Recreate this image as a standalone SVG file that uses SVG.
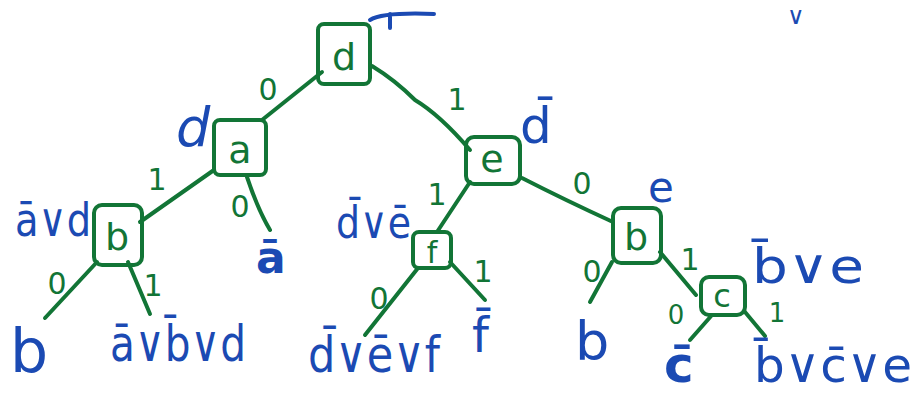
<svg xmlns="http://www.w3.org/2000/svg" width="920" height="394" viewBox="0 0 920 394">
<style>
.box{fill:none;stroke:#127536;stroke-width:4;stroke-linejoin:round}
.nl{font-family:"DejaVu Sans",sans-serif;font-size:38px;fill:#127536;text-anchor:middle}
.edge{fill:none;stroke:#127536;stroke-width:4;stroke-linecap:round}
.el{font-family:"DejaVu Sans",sans-serif;font-size:30px;fill:#127536;text-anchor:middle}
.bl{font-family:"DejaVu Sans",sans-serif;fill:#1b4ab3}
.bs{fill:none;stroke:#1b4ab3;stroke-width:4;stroke-linecap:round}
</style>
<rect width="920" height="394" fill="#ffffff"/>
<g id="connectors">
<path class="edge" d="M322 72 L262 120"/>
<path class="edge" d="M372 66 Q395 80 415 100 Q440 115 470 150"/>
<path class="edge" d="M214 170 L140 222"/>
<path class="edge" d="M247 177 Q258 210 270 230"/>
<path class="edge" d="M97 262 L45 318"/>
<path class="edge" d="M128 262 L150 314"/>
<path class="edge" d="M470 182 L437 232"/>
<path class="edge" d="M522 178 Q565 200 613 222"/>
<path class="edge" d="M418 268 L365 335"/>
<path class="edge" d="M450 262 L485 300"/>
<path class="edge" d="M612 262 L590 302"/>
<path class="edge" d="M660 252 L696 295"/>
<path class="edge" d="M712 315 L690 340"/>
<path class="edge" d="M745 312 L765 336"/>
<text class="el" x="268" y="100">0</text>
<text class="el" x="457" y="110">1</text>
<text class="el" x="157" y="190">1</text>
<text class="el" x="240" y="217">0</text>
<text class="el" x="57" y="294">0</text>
<text class="el" x="153" y="296">1</text>
<text class="el" x="437" y="205">1</text>
<text class="el" x="582" y="194">0</text>
<text class="el" x="379" y="309">0</text>
<text class="el" x="483" y="282">1</text>
<text class="el" x="592" y="282">0</text>
<text class="el" x="690" y="270">1</text>
<text class="el" x="676" y="324" style="font-size:26px">0</text>
<text class="el" x="777" y="322" style="font-size:26px">1</text>
</g>
<g id="node-d"><rect class="box" x="318" y="24" width="52" height="60" rx="6"/><text class="nl" x="344" y="70">d</text></g>
<g id="node-a"><rect class="box" x="214" y="120" width="52" height="55" rx="6"/><text class="nl" x="240" y="163">a</text></g>
<g id="node-e"><rect class="box" x="466" y="137" width="54" height="47" rx="8"/><text class="nl" x="492" y="172">e</text></g>
<g id="node-b1"><rect class="box" x="94" y="205" width="48" height="60" rx="8"/><text class="nl" x="117" y="250">b</text></g>
<g id="node-f"><rect class="box" x="413" y="232" width="38" height="36" rx="6"/><text class="nl" x="432" y="263" style="font-size:30px">f</text></g>
<g id="node-b2"><rect class="box" x="613" y="208" width="48" height="55" rx="8"/><text class="nl" x="636" y="250">b</text></g>
<g id="node-c"><rect class="box" x="701" y="277" width="44" height="38" rx="8"/><text class="nl" x="722" y="307" style="font-size:32px">c</text></g>
<g id="labels">
<text class="bl" x="176" y="146" style="font-size:54px;font-style:italic">d</text>
<text class="bl" x="15" y="236" style="font-size:46px" textLength="76" lengthAdjust="spacingAndGlyphs">ā∨d</text>
<text class="bl" x="10" y="372" style="font-size:60px">b</text>
<text class="bl" x="110" y="361" style="font-size:50px" textLength="136" lengthAdjust="spacingAndGlyphs">ā∨b̄∨d</text>
<text class="bl" x="256" y="273" style="font-size:44px;font-weight:bold">ā</text>
<text class="bl" x="336" y="238" style="font-size:44px" textLength="75" lengthAdjust="spacingAndGlyphs">d̄∨ē</text>
<text class="bl" x="308" y="372" style="font-size:50px" textLength="132" lengthAdjust="spacingAndGlyphs">d̄∨ē∨f</text>
<text class="bl" x="472" y="352" style="font-size:48px">f̄</text>
<text class="bl" x="575" y="360" style="font-size:54px">b</text>
<text class="bl" x="664" y="382" style="font-size:50px;font-weight:bold">c̄</text>
<text class="bl" x="754" y="382" style="font-size:48px" textLength="158" lengthAdjust="spacingAndGlyphs">b̄∨c̄∨e</text>
<text class="bl" x="752" y="283" style="font-size:48px" textLength="112" lengthAdjust="spacingAndGlyphs">b̄∨e</text>
<text class="bl" x="648" y="202" style="font-size:42px">e</text>
<text class="bl" x="520" y="143" style="font-size:50px">d̄</text>
<text class="bl" x="787" y="24" style="font-size:24px">∨</text>
<path class="bs" d="M370 20 Q383 12 434 14 M390 14 L390 28"/>
</g>
</svg>
